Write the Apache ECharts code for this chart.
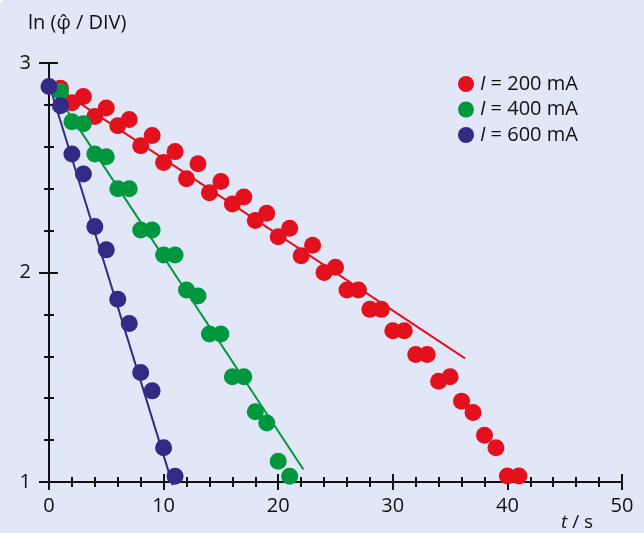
<!DOCTYPE html>
<html>
<head>
<meta charset="utf-8">
<script src="https://cdn.jsdelivr.net/npm/echarts@6/dist/echarts.min.js"></script>
<style>
html,body{margin:0;padding:0;background:#ffffff;}
#c{width:644px;height:533px;background:#E1E7F6;border-top-left-radius:5px;}
</style>
</head>
<body>
<div id="c"></div>
<script>
// time values (s)
const t200 = [1,2,3,4,5,6,7,8,9,10,11,12,13,14,15,16,17,18,19,20,21,22,23,24,25,26,27,28,29,30,31,32,33,34,35,36,37,38,39,40,41];
const y200 = [2.88,2.81,2.84,2.745,2.785,2.70,2.73,2.605,2.654,2.525,2.577,2.447,2.519,2.381,2.434,2.327,2.36,2.248,2.283,2.171,2.211,2.08,2.13,2.0,2.025,1.916,1.916,1.824,1.824,1.722,1.722,1.609,1.609,1.481,1.502,1.386,1.332,1.223,1.163,1.029,1.029];
const t400 = [1,2,3,4,5,6,7,8,9,10,11,12,13,14,15,16,17,18,19,20,21];
const y400 = [2.864,2.72,2.71,2.566,2.553,2.40,2.40,2.203,2.203,2.084,2.084,1.916,1.888,1.706,1.706,1.502,1.502,1.335,1.282,1.099,1.027];
const t600 = [0,1,2,3,4,5,6,7,8,9,10,11];
const y600 = [2.888,2.796,2.566,2.47,2.219,2.108,1.872,1.757,1.523,1.435,1.163,1.027];
// fitted lines: [t, y] end points
const fit200 = [[0,2.905],[36.3,1.59]];
const fit400 = [[0,2.905],[22.2,1.06]];
const fit600 = [[0,2.90],[10.8,0.985]];
const seriesNames = ['200','400','600'];
const xTicks = {min:0,max:50,interval:10};
const yTicks = {min:1,max:3,interval:1};

const RED='#E3101E', GREEN='#00973F', BLUE='#302B85';
const FONT='"Open Sans", "Noto Sans", sans-serif';

function pts(t,y){return t.map((v,i)=>[v,y[i]]);}

const chart = echarts.init(document.getElementById('c'), null, {renderer:'canvas'});
const axisCommon = {
  type:'value',
  splitLine:{show:false}
};
const option = {
  backgroundColor:'transparent',
  animation:false,
  title:[
    {text:'ln (φ\u0302 / DIV)', left:23, top:8,
     textStyle:{fontFamily:FONT,fontSize:20,fontWeight:'normal',color:'#111'}},
    {text:'{i|t} / s', left:556, top:508,
     textStyle:{fontFamily:FONT,fontSize:19,fontWeight:'normal',color:'#111',
       rich:{i:{fontStyle:'italic',fontFamily:FONT,fontSize:19,color:'#111'}}}}
  ],
  legend:{
    left:453, top:69, orient:'vertical', itemWidth:16, itemHeight:16, itemGap:5.5,
    icon:'circle',
    data:seriesNames.map(n=>({name:n})),
    formatter:function(n){return '{i|I} = '+n+' mA';},
    textStyle:{fontFamily:FONT,fontSize:20,lineHeight:20,color:'#111',padding:[0,0,0,1],
      rich:{i:{fontStyle:'italic',fontFamily:FONT,fontSize:20,lineHeight:20,color:'#111'}}}
  },
  grid:{left:49,right:22,top:63,bottom:51,containLabel:false},
  xAxis:[
    Object.assign({},axisCommon,{
      min:xTicks.min,max:xTicks.max,interval:xTicks.interval,position:'bottom',
      axisLine:{show:true,onZero:false,lineStyle:{color:'#111',width:2}},
      axisTick:{show:true,inside:false,length:8,lineStyle:{color:'#111',width:2}},
      minorTick:{show:true,splitNumber:5,length:5,lineStyle:{color:'#111',width:2}},
      axisLabel:{margin:14,fontFamily:FONT,fontSize:20,color:'#111'}
    }),
    Object.assign({},axisCommon,{
      min:xTicks.min,max:xTicks.max,interval:xTicks.interval,position:'bottom',
      axisLine:{show:false,onZero:false},
      axisTick:{show:true,inside:true,length:8,lineStyle:{color:'#111',width:2}},
      minorTick:{show:true,splitNumber:5,length:5,lineStyle:{color:'#111',width:2}},
      axisLabel:{show:false}
    })
  ],
  yAxis:[
    Object.assign({},axisCommon,{
      min:yTicks.min,max:yTicks.max,interval:yTicks.interval,position:'left',
      axisLine:{show:true,onZero:false,lineStyle:{color:'#111',width:2}},
      axisTick:{show:true,inside:false,length:10,lineStyle:{color:'#111',width:2}},
      minorTick:{show:true,splitNumber:5,length:5,lineStyle:{color:'#111',width:2}},
      axisLabel:{margin:18,fontFamily:FONT,fontSize:20,color:'#111'}
    }),
    Object.assign({},axisCommon,{
      min:yTicks.min,max:yTicks.max,interval:yTicks.interval,position:'left',
      axisLine:{show:false,onZero:false},
      axisTick:{show:true,inside:true,length:9,lineStyle:{color:'#111',width:2}},
      minorTick:{show:true,splitNumber:5,length:5,lineStyle:{color:'#111',width:2}},
      axisLabel:{show:false}
    })
  ],
  series:[
    {type:'line',data:fit200,symbol:'none',clip:false,z:1,lineStyle:{color:RED,width:2},silent:true},
    {type:'line',data:fit400,symbol:'none',clip:false,z:1,lineStyle:{color:GREEN,width:2},silent:true},
    {type:'line',data:fit600,symbol:'none',clip:false,z:1,lineStyle:{color:BLUE,width:2},silent:true},
    {name:seriesNames[0],type:'scatter',data:pts(t200,y200),symbolSize:17,z:3,itemStyle:{color:RED,opacity:1},clip:false},
    {name:seriesNames[1],type:'scatter',data:pts(t400,y400),symbolSize:17,z:4,itemStyle:{color:GREEN,opacity:1},clip:false},
    {name:seriesNames[2],type:'scatter',data:pts(t600,y600),symbolSize:17,z:5,itemStyle:{color:BLUE,opacity:1},clip:false}
  ]
};
chart.setOption(option);
</script>
</body>
</html>
